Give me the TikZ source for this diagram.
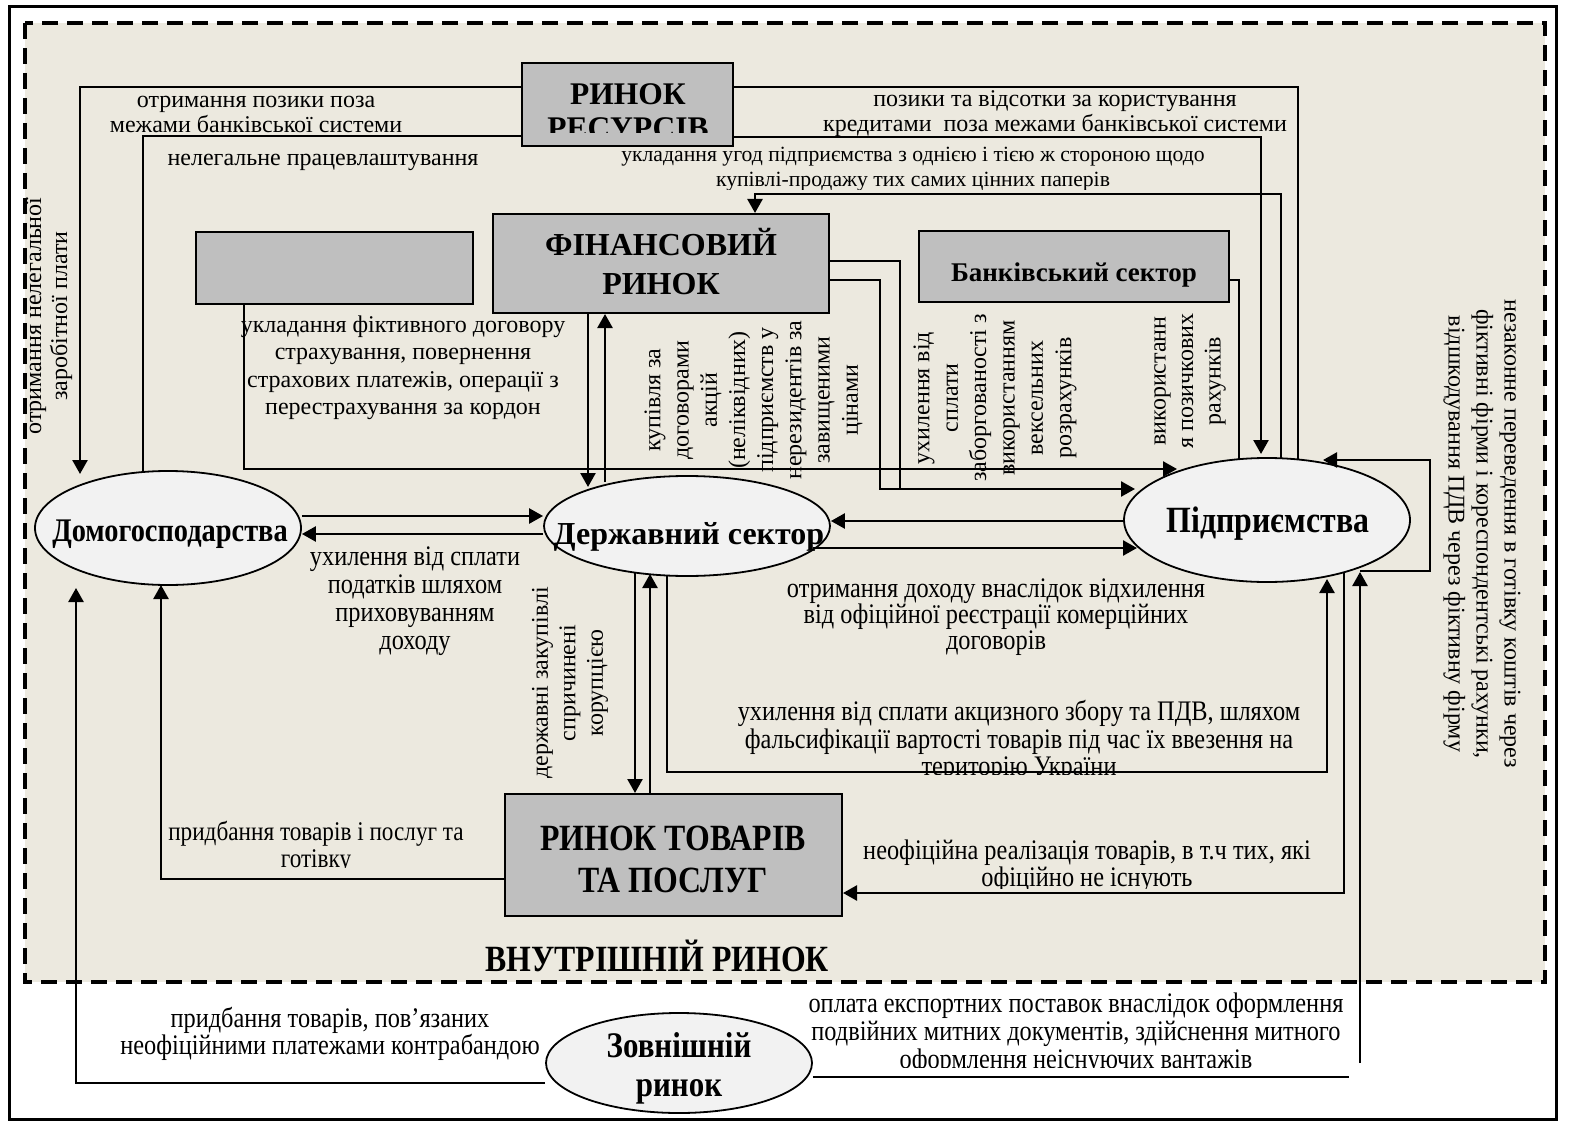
\documentclass[tikz,border=0pt]{standalone}
\usepackage{fontspec}
\setmainfont{Liberation Serif}
\newfontfamily\condf[FakeStretch=0.86]{Liberation Serif}
\usetikzlibrary{arrows.meta,shapes.geometric}
\definecolor{bgbeige}{RGB}{236,233,223}
\definecolor{boxgray}{RGB}{191,191,191}
\definecolor{ellgray}{RGB}{242,242,242}
\tikzset{
  thk/.style={line width=2.5pt},
  thn/.style={line width=1.6pt},
  arr/.style={line width=2.5pt,-{Triangle[length=14pt,width=15pt]}},
  gbox/.style={draw,line width=2pt,fill=boxgray,inner sep=0pt},
  gell/.style={draw,ellipse,line width=1.8pt,fill=ellgray,inner sep=0pt},
  lbl/.style={inner sep=0pt,align=center,font=\fontsize{24}{25}\selectfont},
  lblw/.style={inner sep=0pt,align=center,font=\fontsize{24}{27.5}\selectfont},
  clbl/.style={inner sep=0pt,align=center,font=\condf\fontsize{28.3}{28}\selectfont},
  ttl/.style={inner sep=0pt,align=center,font=\bfseries\fontsize{32}{39}\selectfont},
}
\begin{document}
\begin{tikzpicture}[x=1pt,y=-1pt]
\useasboundingbox (0,0) rectangle (1573,1123);
\fill[white] (0,0) rectangle (1573,1123);
\fill[bgbeige] (25,23) rectangle (1545,982);
\draw[line width=3.6pt,dash pattern=on 16pt off 9pt] (25,23) rectangle (1545,982);
\draw[line width=3.5pt] (9.5,6.5) rectangle (1556.5,1119.5);

% boxes
\node[gbox,minimum width=211pt,minimum height=83pt] (res) at (627.5,104.5) {};
\node[gbox,minimum width=336pt,minimum height=99pt] (fin) at (661,263.5) {};
\node[gbox,minimum width=277pt,minimum height=72pt] (emp) at (334.5,268) {};
\node[gbox,minimum width=310pt,minimum height=71pt] (bank) at (1074,266.5) {};
\node[gbox,minimum width=337pt,minimum height=122pt] (goods) at (673.5,855) {};
% ellipses
\node[gell,minimum width=266pt,minimum height=114pt] (hh) at (168,528) {};
\node[gell,minimum width=286pt,minimum height=100pt] (gov) at (687,526) {};
\node[gell,minimum width=286pt,minimum height=124pt] (ent) at (1267,520) {};
\node[gell,minimum width=266pt,minimum height=100pt] (ext) at (679,1063) {};

% connectors
\draw[arr] (res.west |- 0,87) -| (80,474);
\draw[thn] (res.west |- 0,136) -| (143,472);
\draw[thn] (res.east |- 0,87) -| (1298,459);
\draw[arr] (res.east |- 0,137) -| (1261,454);
\draw[arr] (1281,459) |- (755,194) -- (fin.north -| 755,0);
\draw[thk] (fin.east |- 0,261) -| (900,489);
\draw[arr] (fin.east |- 0,280) -| (880,489) -- (1135,489);
\draw[arr] (emp.south -| 244,0) |- (1177,469);
\draw[arr] (hh.east |- 0,516) -- (gov.west |- 0,516);
\draw[arr] (gov.west |- 0,534) -- (hh.east |- 0,534);
\draw[arr] (fin.south -| 588,0) -- (588,487);
\draw[arr] (605,482) -- (fin.south -| 605,0);
\draw[arr] (ent.west |- 0,521) -- (gov.east |- 0,521);
\draw[arr] (813,548) -- (1137,548);
\draw[arr] (635,572) -- (goods.north -| 635,0);
\draw[arr] (goods.north -| 650,0) -- (650,574);
\draw[arr] (667,576) |- (1327,772) -- (1327,579);
\draw[arr] (1344,572) |- (goods.east |- 0,893);
\draw[thn] (ext.east |- 0,1077) -- (1349,1077);
\draw[arr] (1360,1063) -- (1360,572);
\draw[arr] (1360,571) -| (1430,460) -- (1323,460);
\draw[arr] (goods.west |- 0,879) -| (161,585);
\draw[arr] (ext.west |- 0,1083) -| (76,588);
\draw[thn] (bank.east |- 0,280) -| (1239,459);

% node titles
\begin{scope}
\clip (522,63) rectangle (733,133);
\node[inner sep=0pt,align=center,font=\bfseries\fontsize{31.5}{34}\selectfont] (rest) at (628,111) {РИНОК\\РЕСУРСІВ};
\end{scope}
\node[ttl] (fint) at (661,262) {ФІНАНСОВИЙ\\РИНОК};
\node[inner sep=0pt,font=\bfseries\fontsize{27}{27}\selectfont] (bankt) at (1074,275) {Банківський сектор};
\node[inner sep=0pt,font=\condf\bfseries\fontsize{33}{33}\selectfont] (hht) at (170,534) {Домогосподарства};
\node[inner sep=0pt,font=\bfseries\fontsize{32}{32}\selectfont] (govt) at (689,537) {Державний сектор};
\node[inner sep=0pt,font=\condf\bfseries\fontsize{37}{37}\selectfont] (entt) at (1268,524) {Підприємства};
\node[inner sep=0pt,align=center,font=\condf\bfseries\fontsize{37}{42}\selectfont] (goodst) at (673,859) {РИНОК ТОВАРІВ\\ТА ПОСЛУГ};
\node[inner sep=0pt,align=center,font=\condf\bfseries\fontsize{36}{39}\selectfont] (extt) at (679,1068) {Зовнішній\\ринок};
\node[inner sep=0pt,font=\condf\bfseries\fontsize{37}{37}\selectfont] (innert) at (657,956) {ВНУТРІШНІЙ РИНОК};

% labels
\node[lbl] (l1) at (256,114) {отримання позики поза\\межами банківської системи};
\node[lbl] (l2) at (323,162) {нелегальне працевлаштування};
\node[lbl] (l3) at (1055,114) {позики та відсотки за користування\\кредитами\ \ поза межами банківської системи};
\begin{scope}
\clip (560,140) rectangle (1260,190);
\node[lbl,font=\fontsize{21.7}{25}\selectfont] (l4) at (913,169) {укладання угод підприємства з однією і тією ж стороною щодо\\купівлі-продажу тих самих цінних паперів};
\end{scope}
\node[lblw] (l5) at (403,368) {укладання фіктивного договору\\страхування, повернення\\страхових платежів, операції з\\перестрахування за кордон};
\node[clbl] (l6) at (415,601) {ухилення від сплати\\податків шляхом\\приховуванням\\доходу};
\node[clbl,font=\condf\fontsize{28.3}{24.5}\selectfont] (l7) at (996,617) {отримання доходу внаслідок відхилення\\від офіційної реєстрації комерційних\\договорів};
\begin{scope}
\clip (700,690) rectangle (1340,774);
\node[clbl,font=\condf\fontsize{28.3}{27.5}\selectfont] (l8) at (1019,741) {ухилення від сплати акцизного збору та ПДВ, шляхом\\фальсифікації вартості товарів під час їх ввезення на\\територію України};
\end{scope}
\begin{scope}
\clip (150,810) rectangle (480,867);
\node[clbl,font=\condf\fontsize{27}{26.5}\selectfont] (l9) at (316,847) {придбання товарів і послуг та\\готівку};
\end{scope}
\begin{scope}
\clip (850,830) rectangle (1330,888);
\node[clbl,font=\condf\fontsize{28.3}{27}\selectfont] (l10) at (1087,866) {неофіційна реалізація товарів, в т.ч тих, які\\офіційно не існують};
\end{scope}
\node[clbl,font=\condf\fontsize{28.3}{26}\selectfont] (l11) at (330,1034) {придбання товарів, пов’язаних\\неофіційними платежами контрабандою};
\begin{scope}
\clip (790,985) rectangle (1360,1067);
\node[clbl] (l12) at (1076,1034) {оплата експортних поставок внаслідок оформлення\\подвійних митних документів, здійснення митного\\оформлення неіснуючих вантажів};
\end{scope}

% vertical labels
\node[lbl,rotate=90,font=\fontsize{24}{26}\selectfont] (v1) at (49,316) {отримання нелегальної\\заробітної плати};
\node[lbl,rotate=90,font=\fontsize{24}{28.2}\selectfont] (v2) at (753.5,400) {купівля за\\договорами\\акцій\\(неліквідних)\\підприємств у\\нерезидентів за\\завищеними\\цінами};
\node[lbl,rotate=90,font=\fontsize{24}{28.4}\selectfont] (v3) at (995,398) {ухилення від\\сплати\\заборгованості з\\використанням\\вексельних\\розрахунків};
\node[lbl,rotate=90,font=\fontsize{24}{27.5}\selectfont] (v4) at (1190,381) {використанн\\я позичкових\\рахунків};
\node[lbl,rotate=-90,font=\fontsize{24}{28}\selectfont] (v5) at (1482,534) {незаконне переведення в готівку коштів через\\фіктивні фірми і кореспондентські рахунки,\\відшкодування ПДВ через фіктивну фірму};
\node[lbl,rotate=90,font=\fontsize{24}{27.5}\selectfont] (v6) at (570,683) {державні закупівлі\\спричинені\\корупцією};
\end{tikzpicture}
\end{document}
